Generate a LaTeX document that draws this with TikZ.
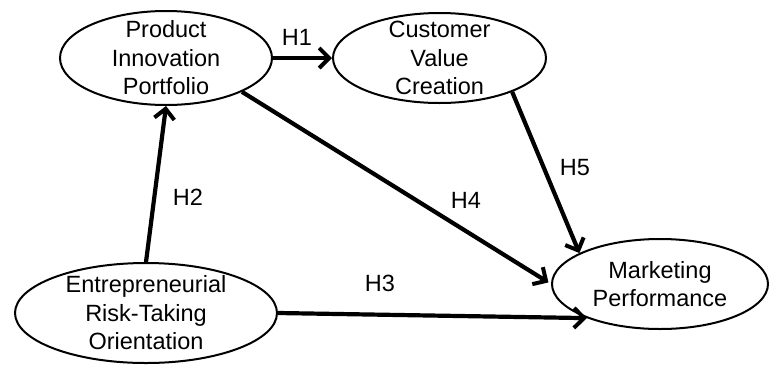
\documentclass[tikz,border=0pt]{standalone}
\usepackage{fontspec}
\setmainfont{Liberation Sans}
\usetikzlibrary{shapes.geometric,arrows.meta}
\begin{document}
\begin{tikzpicture}[x=1pt,y=-1pt,
  oval/.style={draw, ellipse, line width=2pt, inner sep=0pt},
  txt/.style={align=center, font=\fontsize{23.5}{28.5}\selectfont, inner sep=0pt},
  lbl/.style={font=\fontsize{23.5}{28}\selectfont, inner sep=0pt},
  link/.style={line width=4.2pt, -{Straight Barb[length=10pt,width=20pt,line width=4pt]}}]
\useasboundingbox (0,0) rectangle (769,365);
\node[oval, minimum width=212pt, minimum height=94pt] (pip) at (166,58) {};
\node[txt] at (pip) {Product\\Innovation\\Portfolio};
\node[oval, minimum width=213pt, minimum height=90pt] (cvc) at (439.5,58) {};
\node[txt] at (cvc) {Customer\\Value\\Creation};
\node[oval, minimum width=262pt, minimum height=100pt] (erto) at (146,313) {};
\node[txt] at (erto) {Entrepreneurial\\Risk-Taking\\Orientation};
\node[oval, minimum width=216pt, minimum height=90pt] (mp) at (660,284) {};
\node[txt] at (mp) {Marketing\\Performance};
\draw[link] (pip.east) -- (cvc.west);
\draw[link] (erto.north) -- (pip.south);
\draw[link] (erto.east) -- (mp.205);
\draw[link, shorten >=3pt] (pip.-24) -- (mp.180);
\draw[link] (cvc.-25) -- (mp.159);
\node[lbl] (h1) at (297,37) {H1};
\node[lbl] (h2) at (188,197) {H2};
\node[lbl] (h3) at (380,283) {H3};
\node[lbl] (h4) at (466,200) {H4};
\node[lbl] (h5) at (575,168) {H5};
\end{tikzpicture}
\end{document}
